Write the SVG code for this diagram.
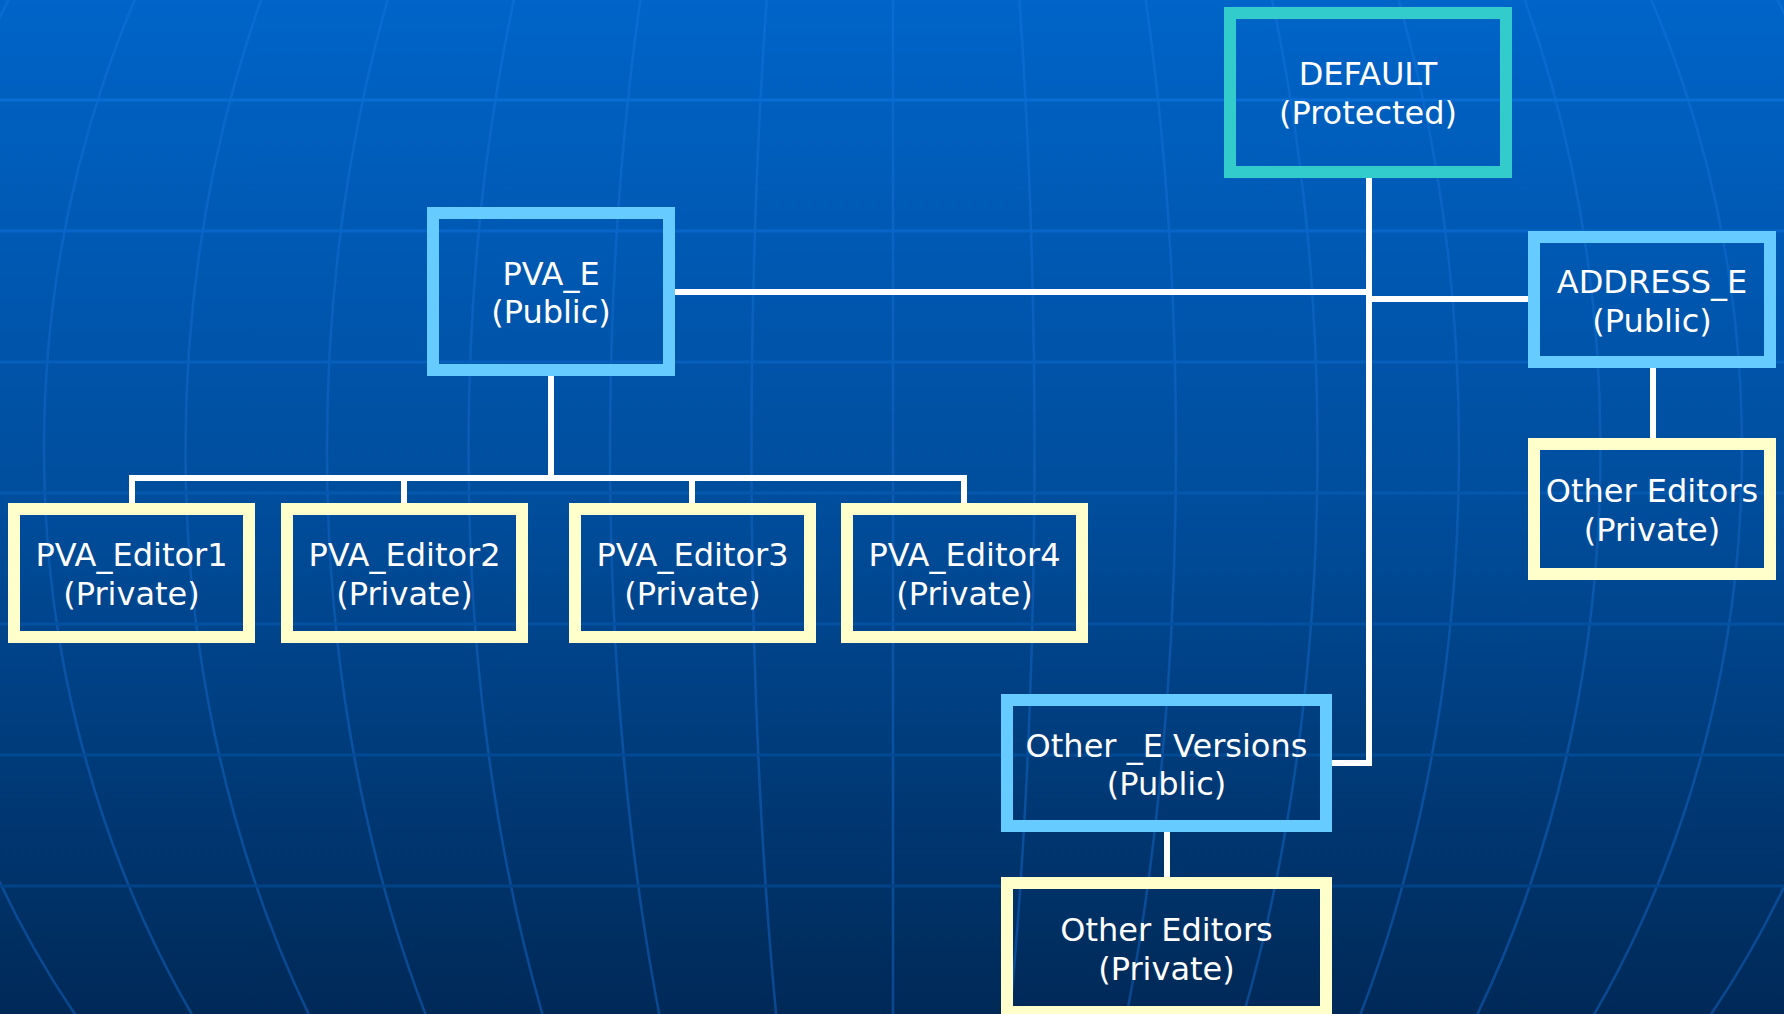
<svg xmlns="http://www.w3.org/2000/svg" width="1784" height="1014" viewBox="0 0 1784 1014">
<defs>
<linearGradient id="bg" x1="0" y1="0" x2="0" y2="1014" gradientUnits="userSpaceOnUse">
<stop offset="0" stop-color="#0064C8"/>
<stop offset="0.5" stop-color="#004D9C"/>
<stop offset="1" stop-color="#002957"/>
</linearGradient>
<linearGradient id="mer" x1="0" y1="0" x2="0" y2="1014" gradientUnits="userSpaceOnUse">
<stop offset="0" stop-color="#0A6CD2"/>
<stop offset="1" stop-color="#0A4890"/>
</linearGradient>
<linearGradient id="par" x1="0" y1="0" x2="0" y2="1014" gradientUnits="userSpaceOnUse">
<stop offset="0" stop-color="#0B72E0"/>
<stop offset="1" stop-color="#003C7A"/>
</linearGradient>
</defs>
<style>
.box{fill:none;stroke-width:12}
.prot{stroke:#33CCCC}
.pub{stroke:#66CCFF}
.priv{stroke:#FFFFCC}
text{font-family:"DejaVu Sans","Verdana",sans-serif;font-size:32px;fill:#FFFFFF;text-anchor:middle}
.conn{fill:none;stroke:#FFFFFF;stroke-width:6;stroke-linejoin:miter;stroke-linecap:butt}
.mer{fill:none;stroke:url(#mer);stroke-width:2.5}
.par{fill:none;stroke:url(#par);stroke-width:3}
</style>
<g id="background">
<rect x="0" y="0" width="1784" height="1014" fill="url(#bg)"/>
<g class="mer">
<line x1="893" y1="0" x2="893" y2="1014"/>
<ellipse cx="893" cy="450" rx="141.5" ry="1000"/>
<ellipse cx="893" cy="450" rx="283" ry="1000"/>
<ellipse cx="893" cy="450" rx="424.5" ry="1000"/>
<ellipse cx="893" cy="450" rx="566" ry="1000"/>
<ellipse cx="893" cy="450" rx="707.5" ry="1000"/>
<ellipse cx="893" cy="450" rx="849" ry="1000"/>
<ellipse cx="893" cy="450" rx="990.5" ry="1000"/>
</g>
<g class="par">
<line x1="0" y1="100" x2="1784" y2="100"/>
<line x1="0" y1="231" x2="1784" y2="231"/>
<line x1="0" y1="362" x2="1784" y2="362"/>
<line x1="0" y1="493" x2="1784" y2="493"/>
<line x1="0" y1="624" x2="1784" y2="624"/>
<line x1="0" y1="755" x2="1784" y2="755"/>
<line x1="0" y1="886" x2="1784" y2="886"/>
</g>
</g>
<g id="connectors">
<path class="conn" d="M1369,177 V763 H1332"/>
<path class="conn" d="M675,292 H1369"/>
<path class="conn" d="M1369,299 H1528"/>
<path class="conn" d="M551,376 V478"/>
<path class="conn" d="M132,503 V478 H964 V503"/>
<path class="conn" d="M404,478 V503"/>
<path class="conn" d="M692,478 V503"/>
<path class="conn" d="M1653,368 V438"/>
<path class="conn" d="M1167,832 V877"/>
</g>
<g id="node-default">
<rect class="box prot" x="1230" y="13" width="276" height="159"/>
<text x="1368" y="85">DEFAULT</text>
<text x="1368" y="124">(Protected)</text>
</g>
<g id="node-pva-e">
<rect class="box pub" x="433" y="213" width="236" height="157"/>
<text x="551" y="285">PVA_E</text>
<text x="551" y="323">(Public)</text>
</g>
<g id="node-address-e">
<rect class="box pub" x="1534" y="237" width="236" height="125"/>
<text x="1652" y="293">ADDRESS_E</text>
<text x="1652" y="332">(Public)</text>
</g>
<g id="node-address-editors">
<rect class="box priv" x="1534" y="444" width="236" height="130"/>
<text x="1652" y="502">Other Editors</text>
<text x="1652" y="541">(Private)</text>
</g>
<g id="node-pva-editor1">
<rect class="box priv" x="14" y="509" width="235" height="128"/>
<text x="131.5" y="566">PVA_Editor1</text>
<text x="131.5" y="605">(Private)</text>
</g>
<g id="node-pva-editor2">
<rect class="box priv" x="287" y="509" width="235" height="128"/>
<text x="404.5" y="566">PVA_Editor2</text>
<text x="404.5" y="605">(Private)</text>
</g>
<g id="node-pva-editor3">
<rect class="box priv" x="575" y="509" width="235" height="128"/>
<text x="692.5" y="566">PVA_Editor3</text>
<text x="692.5" y="605">(Private)</text>
</g>
<g id="node-pva-editor4">
<rect class="box priv" x="847" y="509" width="235" height="128"/>
<text x="964.5" y="566">PVA_Editor4</text>
<text x="964.5" y="605">(Private)</text>
</g>
<g id="node-other-e">
<rect class="box pub" x="1007" y="700" width="319" height="126"/>
<text x="1166.5" y="757">Other _E Versions</text>
<text x="1166.5" y="795">(Public)</text>
</g>
<g id="node-other-editors">
<rect class="box priv" x="1007" y="883" width="319" height="129"/>
<text x="1166.5" y="941">Other Editors</text>
<text x="1166.5" y="980">(Private)</text>
</g>
</svg>
